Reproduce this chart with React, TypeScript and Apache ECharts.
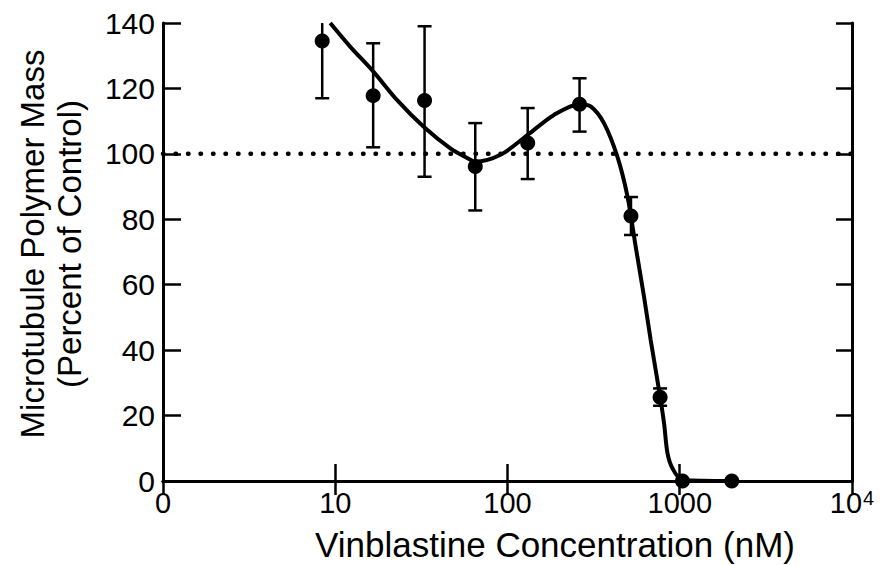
import React, { useEffect, useRef } from "react";
import * as echarts from "echarts";

// Measured points (concentration in nM, polymer mass % of control)
const concentrations = [8.4, 16.6, 33, 65, 131, 262, 521, 769, 1037, 2004];
const polymerMass = [134.5, 117.8, 116.3, 96.1, 103.3, 115.2, 81, 25.6, 0, 0];
const errorLow = [117, 102, 93, 82.7, 92.3, 106.8, 75.2, 23, null, null];
const errorHigh = [150, 133.8, 139, 109.4, 114, 123.1, 86.8, 28.3, null, null];

// Fitted curve
const curveX = [9.35, 12.2, 16.6, 22.8, 32.6, 46.6, 60.9, 64.6, 91.1, 131, 186, 262, 304, 363, 434, 497, 555, 620, 678, 758, 811, 848, 907, 1037, 2004];
const curveY = [140, 132.8, 125.2, 116.5, 108.3, 101.7, 98.2, 97.6, 99.7, 105.8, 111.9, 115.2, 114.5, 109.4, 99.2, 87, 71.6, 56.4, 43.1, 27.8, 17.6, 8.6, 3.9, 0.3, 0];

// Control reference level
const controlLevel = 100;
const xRange = [1, 10000];

const xTickLabels: Record<number, string> = { 1: "0", 10: "10", 100: "100", 1000: "1000", 10000: "{b|10}{s|4}" };
const yTitle = "Microtubule Polymer Mass\n(Percent of Control)";
const xTitle = "Vinblastine Concentration (nM)";

const FONT = '"Liberation Sans", Arial, Helvetica, sans-serif';

export default function App() {
  const ref = useRef<HTMLDivElement>(null);
  useEffect(() => {
    if (!ref.current) return;
    const chart = echarts.init(ref.current, null, { renderer: "svg" });
    const points = concentrations.map((c, i) => [c, polymerMass[i]]);
    const errData = concentrations
      .map((c, i) => [c, errorLow[i], errorHigh[i]])
      .filter((d) => d[1] !== null && d[2] !== null);
    const curve = curveX.map((x, i) => [x, curveY[i]]);
    const axisLine = { show: true, lineStyle: { color: "#000", width: 3 } };
    chart.setOption({
      animation: false,
      textStyle: { fontFamily: FONT },
      grid: { left: 163, right: 28, top: 23, bottom: 84 },
      xAxis: [
        {
          type: "log",
          logBase: 10,
          min: xRange[0],
          max: xRange[1],
          axisLine,
          axisTick: { show: true, inside: true, length: 17, lineStyle: { color: "#000", width: 2.5 } },
          minorTick: { show: false },
          splitLine: { show: false },
          axisLabel: {
            color: "#000",
            fontSize: 29,
            fontFamily: FONT,
            margin: 7,
            lineHeight: 30,
            formatter: (v: number) => xTickLabels[Math.round(v)] ?? "",
            rich: {
              b: { fontSize: 29, fontFamily: FONT, color: "#000", lineHeight: 30 },
              s: { fontSize: 20, fontFamily: FONT, color: "#000", verticalAlign: "top", padding: [0, 0, 12, 1], lineHeight: 20 },
            },
          },
        },
        {
          type: "log",
          logBase: 10,
          min: xRange[0],
          max: xRange[1],
          position: "top",
          axisLine,
          axisTick: { show: true, inside: true, length: 14, lineStyle: { color: "#000", width: 2.5 } },
          splitLine: { show: false },
          axisLabel: { show: false },
        },
      ],
      yAxis: [
        {
          type: "value",
          min: 0,
          max: 140,
          interval: 20,
          axisLine,
          axisTick: { show: true, inside: true, length: 18, lineStyle: { color: "#000", width: 2.5 } },
          splitLine: { show: false },
          axisLabel: { color: "#000", fontSize: 30, fontFamily: FONT, margin: 8 },
        },
        {
          type: "value",
          min: 0,
          max: 140,
          interval: 20,
          position: "right",
          axisLine,
          axisTick: { show: true, inside: true, length: 16, lineStyle: { color: "#000", width: 2.5 } },
          splitLine: { show: false },
          axisLabel: { show: false },
        },
      ],
      graphic: [
        {
          type: "text",
          x: 51,
          y: 244,
          rotation: Math.PI / 2,
          style: {
            text: yTitle,
            fontSize: 33,
            fontFamily: FONT,
            fill: "#000",
            align: "center",
            verticalAlign: "middle",
            lineHeight: 37,
          },
        },
        {
          type: "text",
          x: 555,
          y: 544,
          style: {
            text: xTitle,
            fontSize: 35,
            fontFamily: FONT,
            fill: "#000",
            align: "center",
            verticalAlign: "middle",
            lineHeight: 36,
          },
        },
      ],
      series: [
        {
          type: "line",
          data: [[xRange[0], controlLevel], [xRange[1], controlLevel]],
          symbol: "none",
          lineStyle: { color: "#000", width: 4.5, type: [0.5, 12], cap: "round" },
          silent: true,
        },
        {
          type: "line",
          data: curve,
          symbol: "none",
          smooth: 0.3,
          clip: true,
          lineStyle: { color: "#000", width: 4 },
          silent: true,
        },
        {
          type: "custom",
          data: errData,
          clip: true,
          encode: { x: 0, y: [1, 2] },
          renderItem: (params: any, api: any) => {
            const x = api.value(0);
            const lo = api.coord([x, api.value(1)]);
            const hi = api.coord([x, api.value(2)]);
            const w = 7;
            const style = { stroke: "#000", lineWidth: 2.5 };
            return {
              type: "group",
              children: [
                { type: "line", shape: { x1: lo[0], y1: lo[1], x2: hi[0], y2: hi[1] }, style },
                { type: "line", shape: { x1: lo[0] - w, y1: lo[1], x2: lo[0] + w, y2: lo[1] }, style },
                { type: "line", shape: { x1: hi[0] - w, y1: hi[1], x2: hi[0] + w, y2: hi[1] }, style },
              ],
            };
          },
        },
        {
          type: "scatter",
          data: points,
          symbol: "circle",
          symbolSize: 15,
          itemStyle: { color: "#000", opacity: 1 },
          z: 5,
        },
      ],
    });
    return () => chart.dispose();
  }, []);
  return <div ref={ref} style={{ position: "absolute", left: 0, top: 0, width: 880, height: 565 }} />;
}
